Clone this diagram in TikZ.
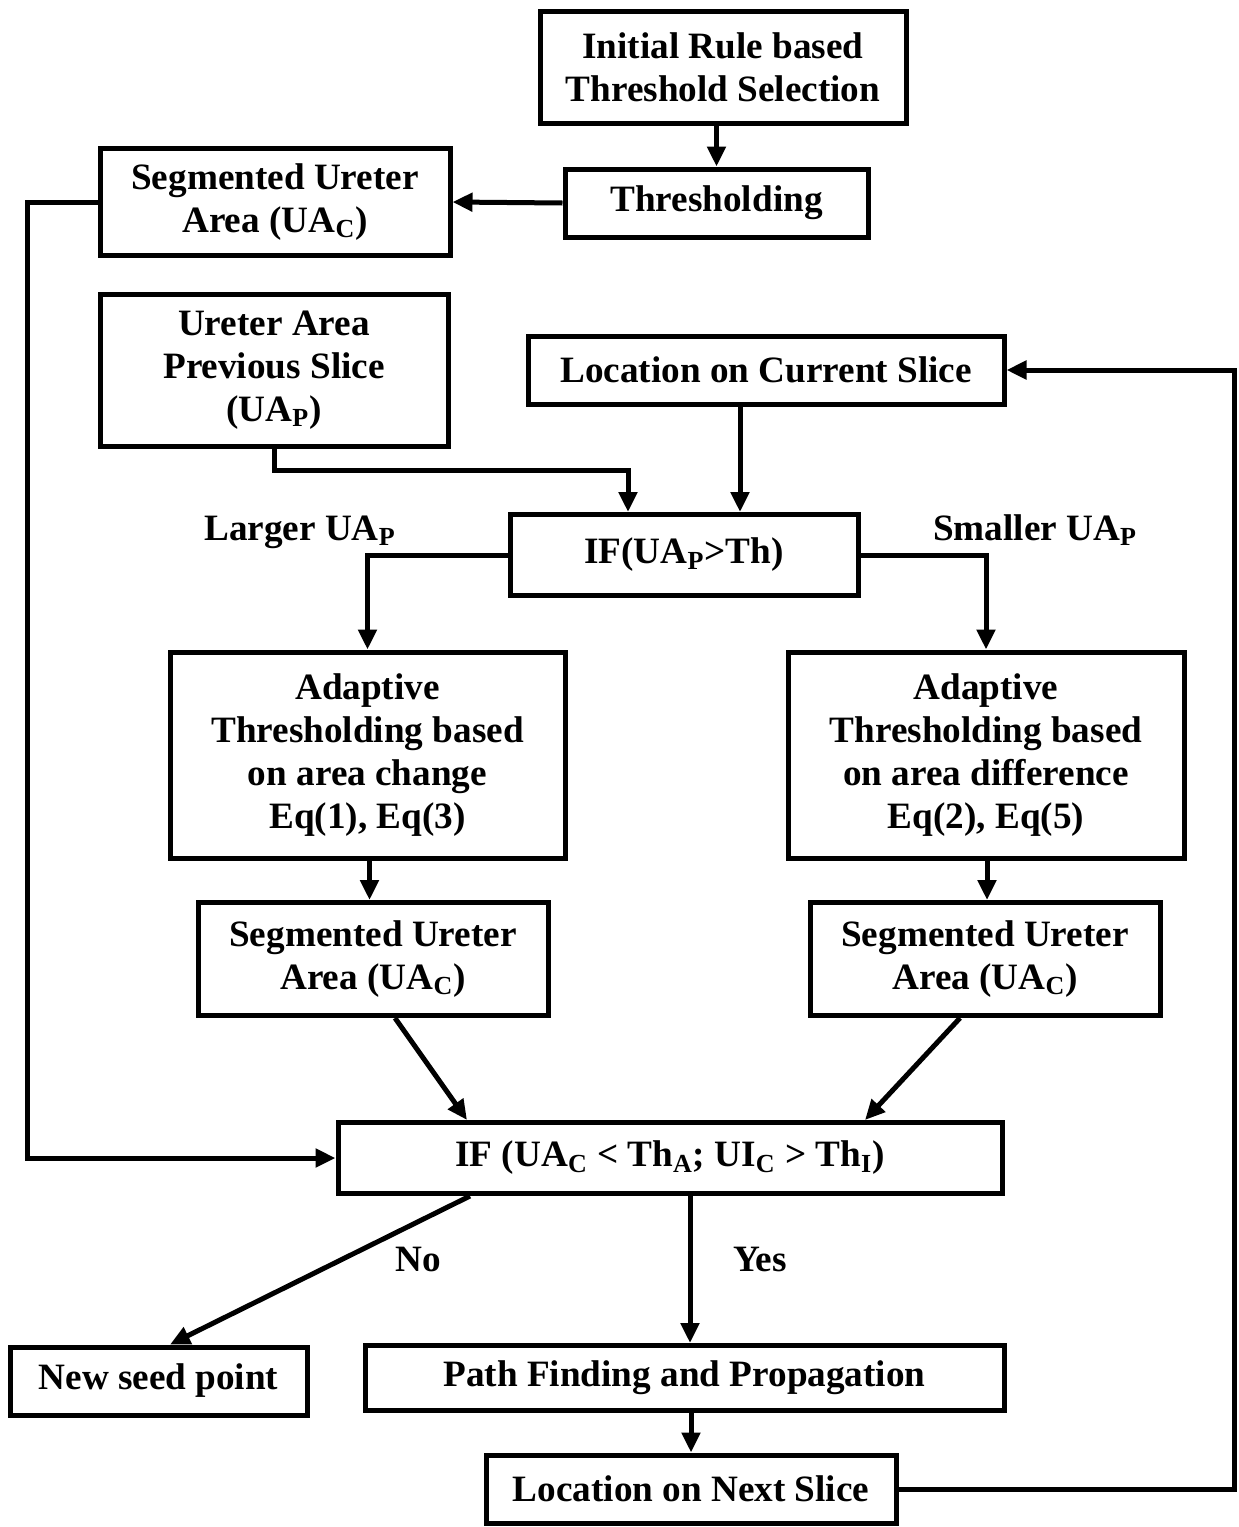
\documentclass[tikz,border=0pt]{standalone}
\usepackage{fontspec}
\setmainfont{Liberation Serif}
\usetikzlibrary{arrows.meta}
\newcommand{\sbs}[1]{\textsubscript{#1}}

\begin{document}
\begin{tikzpicture}[x=0.5pt,y=-0.5pt,
  box/.style={draw, line width=2.5pt, fill=white, inner sep=0pt, align=center,
    font=\fontsize{18.6}{21.5}\selectfont\bfseries},
  lbl/.style={inner sep=0pt, font=\fontsize{18.6}{21.5}\selectfont\bfseries},
  arr/.style={line width=2.5pt, -{Triangle[length=10pt,width=9pt]}},
  ln/.style={line width=2.5pt}]
\useasboundingbox (0,0) rectangle (1238,1527);
\node[box, minimum width=183pt, minimum height=56pt] (init) at (723,67) {Initial Rule based\\Threshold Selection};
\node[box, minimum width=151.5pt, minimum height=34pt] (thresh) at (716.5,203) {Thresholding};
\node[box, minimum width=175pt, minimum height=53.5pt] (seg0) at (275,202) {Segmented Ureter\\Area (UA\sbs{C})};
\node[box, minimum width=174pt, minimum height=76pt] (uap) at (274,370) {Ureter Area\\Previous Slice\\(UA\sbs{P})};
\node[box, minimum width=238pt, minimum height=34pt] (loccur) at (766,370) {Location on Current Slice};
\node[box, minimum width=174pt, minimum height=40.5pt] (ifth) at (684,555) {IF(UA\sbs{P}>Th)};
\node[box, minimum width=197.5pt, minimum height=103pt] (adapt1) at (367.5,755) {Adaptive\\Thresholding based\\on area change\\Eq(1), Eq(3)};
\node[box, minimum width=198pt, minimum height=103pt] (adapt2) at (986,755) {Adaptive\\Thresholding based\\on area difference\\Eq(2), Eq(5)};
\node[box, minimum width=175pt, minimum height=56.5pt] (seg1) at (373,959) {Segmented Ureter\\Area (UA\sbs{C})};
\node[box, minimum width=175pt, minimum height=56.5pt] (seg2) at (985,959) {Segmented Ureter\\Area (UA\sbs{C})};
\node[box, minimum width=332pt, minimum height=35.5pt] (ifc) at (670,1158) {IF (UA\sbs{C} < Th\sbs{A}; UI\sbs{C} > Th\sbs{I})};
\node[box, minimum width=148.5pt, minimum height=34pt] (newseed) at (158.5,1381) {New seed point};
\node[box, minimum width=319.5pt, minimum height=32.5pt] (path) at (684.5,1378) {Path Finding and Propagation};
\node[box, minimum width=205pt, minimum height=34pt] (locnext) at (691,1489) {Location on Next Slice};
% branch labels
\node[lbl] (larger) at (300,532) {Larger UA\sbs{P}};
\node[lbl] (smaller) at (1035,530) {Smaller UA\sbs{P}};
\node[lbl] (no) at (418,1259) {No};
\node[lbl] (yes) at (760,1259) {Yes};
% connectors
\draw[arr] (thresh.north |- init.south) -- (thresh.north);
\draw[arr] (thresh.west) -- (seg0.east);
\draw[arr] (seg0.west) -- ++(-70,0) |- (ifc.west);
\draw[arr] (uap.south) -- ++(0,22) -| ([xshift=-28pt]ifth.north);
\draw[arr] ([xshift=-13pt]loccur.south) -- ([xshift=-13pt]loccur.south |- ifth.north);
\draw[arr] (ifth.west) -| (adapt1.north);
\draw[arr] (ifth.east) -| (adapt2.north);
\draw[arr] ([xshift=1pt]adapt1.south) -- ([xshift=1pt]adapt1.south |- seg1.north);
\draw[arr] ([xshift=0.5pt]adapt2.south) -- ([xshift=0.5pt]adapt2.south |- seg2.north);
\draw[arr] ([xshift=11pt]seg1.south) -- ([xshift=-101.5pt]ifc.north);
\draw[arr] ([xshift=-12.5pt]seg2.south) -- ([xshift=97.5pt]ifc.north);
\draw[arr] ([xshift=-100pt]ifc.south) -- ([xshift=5.75pt]newseed.north);
\draw[arr] ([xshift=10pt]ifc.south) -- ([xshift=10pt]ifc.south |- path.north);
\draw[arr] (locnext.north |- path.south) -- (locnext.north);
\draw[arr] (locnext.east) -- ++(336,0) |- (loccur.east);
\end{tikzpicture}
\end{document}
